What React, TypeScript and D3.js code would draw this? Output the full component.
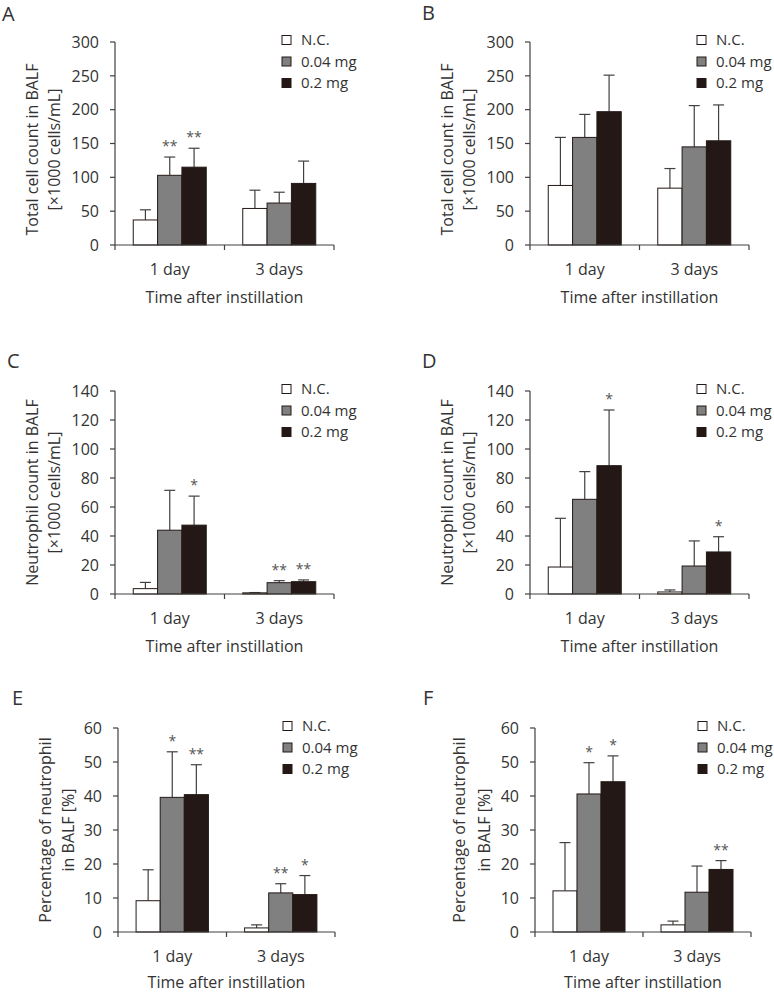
import * as d3 from "d3";

// six BALF panels (A–F), bars = mean, whisker = mean + SD (upper only)

const DAYS = ["1 day", "3 days"];
const SERIES = ["N.C.", "0.04 mg", "0.2 mg"];
const FILLS = ["#ffffff", "#808080", "#231815"];

// values are [day][series]
const A_MEAN = [[37, 103, 115], [54, 62, 91]];
const A_ERR = [[52, 130, 143], [81, 78, 124]];
const A_SIG = [["", "**", "**"], ["", "", ""]];

const B_MEAN = [[88, 159, 197], [84, 145, 154]];
const B_ERR = [[159, 193, 251], [113, 206, 207]];
const B_SIG = [["", "", ""], ["", "", ""]];

const C_MEAN = [[3.7, 44, 47.5], [0.8, 7.8, 8.5]];
const C_ERR = [[8, 71.5, 67.5], [1, 9.2, 9.7]];
const C_SIG = [["", "", "*"], ["", "**", "**"]];

const D_MEAN = [[18.6, 65.3, 88.5], [1.4, 19.3, 29]];
const D_ERR = [[52.2, 84.4, 126.9], [2.8, 36.6, 39.5]];
const D_SIG = [["", "", "*"], ["", "", "*"]];

const E_MEAN = [[9.2, 39.6, 40.4], [1.2, 11.5, 11]];
const E_ERR = [[18.3, 53, 49.2], [2.1, 14.2, 16.6]];
const E_SIG = [["", "*", "**"], ["", "**", "*"]];

const F_MEAN = [[12.1, 40.6, 44.2], [2.1, 11.7, 18.4]];
const F_ERR = [[26.3, 49.8, 51.8], [3.2, 19.4, 21]];
const F_SIG = [["", "*", "*"], ["", "", "**"]];

const COUNT_TICKS = [0, 50, 100, 150, 200, 250, 300];
const NEUT_TICKS = [0, 20, 40, 60, 80, 100, 120, 140];
const PCT_TICKS = [0, 10, 20, 30, 40, 50, 60];

const TITLE_TOTAL = ["Total cell count in BALF", "[×1000 cells/mL]"];
const TITLE_NEUT = ["Neutrophil count in BALF", "[×1000 cells/mL]"];
const TITLE_PCT = ["Percentage of neutrophil", "in BALF [%]"];
const X_TITLE = "Time after instillation";

const FONT = "'Open Sans', 'Noto Sans', sans-serif";
const INK = "#333333";
const DARK = "#231815";
const AXIS = "#404040";

interface Panel {
  label: string;
  labelX: number;
  labelY: number;
  x0: number;
  top: number;
  bottom: number;
  w: number;
  legendX: number;
  ticks: number[];
  title: string[];
  titleDx: [number, number];
  titleShift: number;
  xTitleDy: number;
  mean: number[][];
  err: number[][];
  sig: string[][];
}

const PANELS: Panel[] = [
  { label: "A", labelX: 2, labelY: 21, x0: 115, top: 42, bottom: 245, w: 219, legendX: 282, ticks: COUNT_TICKS, title: TITLE_TOTAL, titleDx: [-83, -61], titleShift: 6, xTitleDy: 52, mean: A_MEAN, err: A_ERR, sig: A_SIG },
  { label: "B", labelX: 422, labelY: 20, x0: 530, top: 42, bottom: 245, w: 219, legendX: 697, ticks: COUNT_TICKS, title: TITLE_TOTAL, titleDx: [-83, -61], titleShift: 6, xTitleDy: 52, mean: B_MEAN, err: B_ERR, sig: B_SIG },
  { label: "C", labelX: 7, labelY: 368, x0: 115, top: 391, bottom: 594, w: 219, legendX: 282, ticks: NEUT_TICKS, title: TITLE_NEUT, titleDx: [-83, -61], titleShift: 0, xTitleDy: 52, mean: C_MEAN, err: C_ERR, sig: C_SIG },
  { label: "D", labelX: 422, labelY: 368, x0: 530, top: 391, bottom: 594, w: 219, legendX: 697, ticks: NEUT_TICKS, title: TITLE_NEUT, titleDx: [-83, -61], titleShift: 0, xTitleDy: 52, mean: D_MEAN, err: D_ERR, sig: D_SIG },
  { label: "E", labelX: 12, labelY: 705, x0: 118, top: 728, bottom: 932, w: 217, legendX: 283, ticks: PCT_TICKS, title: TITLE_PCT, titleDx: [-73, -50], titleShift: 0, xTitleDy: 50, mean: E_MEAN, err: E_ERR, sig: E_SIG },
  { label: "F", labelX: 423, labelY: 705, x0: 535, top: 728, bottom: 932, w: 216, legendX: 698, ticks: PCT_TICKS, title: TITLE_PCT, titleDx: [-76, -51], titleShift: 0, xTitleDy: 50, mean: F_MEAN, err: F_ERR, sig: F_SIG },
];

function BarPanel({ p }: { p: Panel }) {
  const x = d3
    .scaleBand<string>()
    .domain(DAYS)
    .range([p.x0, p.x0 + p.w])
    .paddingInner(1 / 3)
    .paddingOuter(1 / 6);
  const xs = d3.scaleBand<string>().domain(SERIES).range([0, x.bandwidth()]);
  const yMax = p.ticks[p.ticks.length - 1];
  const y = d3.scaleLinear().domain([0, yMax]).range([p.bottom, p.top]);
  const cy = (p.top + p.bottom) / 2 + p.titleShift;
  const mid = p.x0 + p.w / 2;

  return (
    <g>
      <text x={p.labelX} y={p.labelY} fontSize={20} fill={INK} fontFamily={FONT}>
        {p.label}
      </text>

      {/* y axis */}
      <line x1={p.x0} x2={p.x0} y1={y(0)} y2={y(yMax)} stroke={AXIS} strokeWidth={1.2} />
      {p.ticks.map((t) => (
        <g key={t}>
          <line x1={p.x0 - 5} x2={p.x0} y1={y(t)} y2={y(t)} stroke={AXIS} strokeWidth={1.2} />
          <text x={p.x0 - 16} y={y(t)} dy="0.36em" textAnchor="end" fontSize={16} fill={INK} fontFamily={FONT}>
            {t}
          </text>
        </g>
      ))}
      {p.title.map((line, i) => (
        <text
          key={i}
          transform={`translate(${p.x0 + p.titleDx[i]},${cy}) rotate(-90)`}
          dy="0.36em"
          textAnchor="middle"
          fontSize={16}
          fill={INK}
          fontFamily={FONT}
        >
          {line}
        </text>
      ))}

      {/* bars */}
      {DAYS.map((day, di) => (
        <g key={day}>
          {SERIES.map((s, si) => {
            const bx = (x(day) ?? 0) + (xs(s) ?? 0);
            const bw = xs.bandwidth();
            const cx = bx + bw / 2;
            const v = p.mean[di][si];
            const e = p.err[di][si];
            const sig = p.sig[di][si];
            return (
              <g key={s}>
                <line x1={cx} x2={cx} y1={y(v)} y2={y(e)} stroke={AXIS} strokeWidth={1.2} />
                <line x1={cx - 5.5} x2={cx + 5.5} y1={y(e)} y2={y(e)} stroke={AXIS} strokeWidth={1.2} />
                <rect x={bx} y={y(v)} width={bw} height={y(0) - y(v)} fill={FILLS[si]} stroke={DARK} strokeWidth={1} />
                {sig && (
                  <text x={cx} y={y(e) - 6} textAnchor="middle" fontSize={14} fill="#555" fontFamily={FONT}>
                    {sig}
                  </text>
                )}
              </g>
            );
          })}
          <text x={(x(day) ?? 0) + x.bandwidth() / 2} y={p.bottom + 24} dy="0.36em" textAnchor="middle" fontSize={16} fill={INK} fontFamily={FONT}>
            {day}
          </text>
        </g>
      ))}

      {/* x axis */}
      <line x1={p.x0} x2={p.x0 + p.w} y1={p.bottom} y2={p.bottom} stroke={AXIS} strokeWidth={1.2} />
      {[p.x0, mid, p.x0 + p.w].map((t) => (
        <line key={t} x1={t} x2={t} y1={p.bottom} y2={p.bottom + 5} stroke={AXIS} strokeWidth={1.2} />
      ))}
      <text x={mid} y={p.bottom + p.xTitleDy} dy="0.36em" textAnchor="middle" fontSize={16} fill={INK} fontFamily={FONT}>
        {X_TITLE}
      </text>

      {/* legend */}
      {SERIES.map((s, si) => {
        const ly = p.top - 2 + si * 21.5;
        return (
          <g key={s}>
            <rect x={p.legendX} y={ly - 4.5} width={9} height={9} fill={FILLS[si]} stroke={DARK} strokeWidth={1} />
            <text x={p.legendX + 19} y={ly} dy="0.36em" fontSize={15} fill={INK} fontFamily={FONT}>
              {s}
            </text>
          </g>
        );
      })}
    </g>
  );
}

export default function App() {
  return (
    <svg
      width={774}
      height={992}
      viewBox="0 0 774 992"
      style={{ position: "absolute", left: 0, top: 0, background: "#fff" }}
    >
      <rect width={774} height={992} fill="#fff" />
      {PANELS.map((p) => (
        <BarPanel key={p.label} p={p} />
      ))}
    </svg>
  );
}
